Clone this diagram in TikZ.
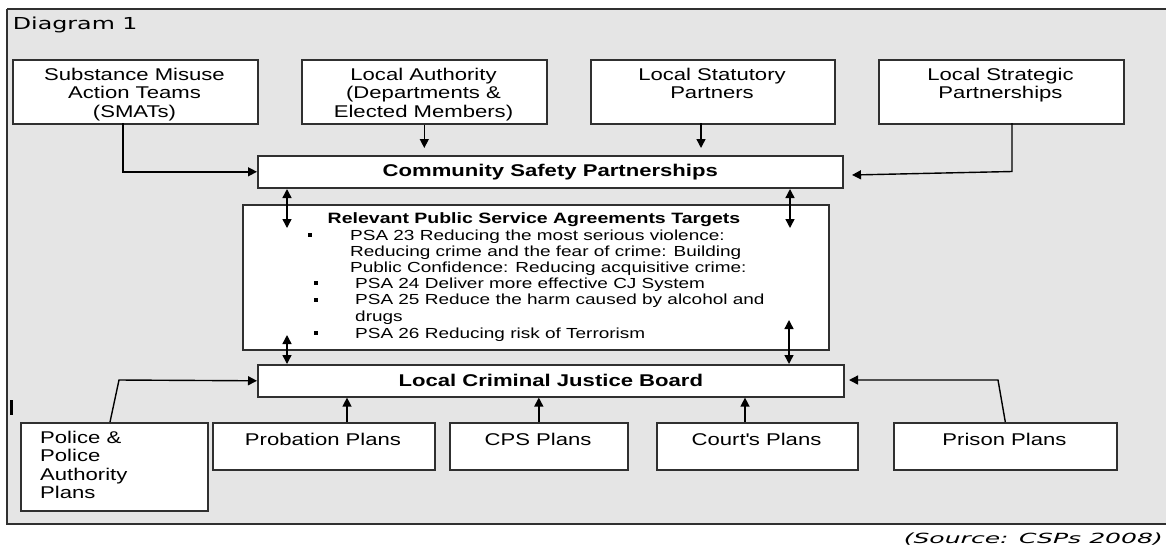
\documentclass[tikz,border=0pt]{standalone}
\usepackage{fontspec}
\setmainfont{Liberation Sans}[FakeStretch=1.3]
\newfontfamily\dvs{DejaVu Sans}[ItalicFont={DejaVu Sans Oblique}]
\usetikzlibrary{arrows.meta,calc}
\definecolor{bg}{HTML}{E5E5E5}
\definecolor{ln}{HTML}{303030}
\newcommand\fsz[2]{\fontsize{#1}{#2}\selectfont}
\begin{document}
\begin{tikzpicture}[x=1pt,y=-1pt,
  box/.style={draw=ln, line width=1.6pt, fill=white, inner sep=0, anchor=north west},
  txt/.style={inner sep=0, align=center, anchor=north, font=\fsz{17}{18.5}},
  btxt/.style={inner sep=0, font=\bfseries\fsz{17}{18.5}},
  arr/.style={draw=black, line width=1.4pt, -{Triangle[length=9pt,width=9pt]}},
  darr/.style={draw=black, line width=1.4pt, {Triangle[length=9pt,width=9pt]}-{Triangle[length=9pt,width=9pt]}},
  psa/.style={inner sep=0, align=left, anchor=north west, font=\fsz{14.6}{16.3}},
  bul/.style={fill=black, inner sep=0, minimum size=4pt}
]
\useasboundingbox (0,0) rectangle (1166,547);
\fill[white] (0,0) rectangle (1166,547);
\fill[bg] (7,9) rectangle (1166,524);
\draw[ln, line width=1.6pt] (7,9) -- (1168,9) (7,9) -- (7,524) -- (1168,524);
\draw[black, line width=3pt] (11.5,400) -- (11.5,415);

\node[inner sep=0, anchor=base west, font=\dvs\fsz{16.5}{18}] (title) at (12.7,29.3) {\scalebox{1.44}[1]{Diagram 1}};
\node[inner sep=0, anchor=base east, font=\dvs\itshape\fsz{14}{16}] (src) at (1163,543.5) {\scalebox{1.79}[1]{(Source: CSPs 2008)}};

% top boxes
\node[box, minimum width=245pt, minimum height=64pt] (smats) at (12,59) {};
\node[box, minimum width=245pt, minimum height=64pt] (la) at (301,59) {};
\node[box, minimum width=244pt, minimum height=64pt] (stat) at (590,59) {};
\node[box, minimum width=245pt, minimum height=64pt] (strat) at (878,59) {};
\node[txt] (smatsT) at (134.5,67.7) {Substance Misuse\\Action Teams\\(SMATs)};
\node[txt] (laT) at (423.5,67.7) {Local Authority\\(Departments \&\\Elected Members)};
\node[txt] (statT) at (712,67.7) {Local Statutory\\Partners};
\node[txt] (stratT) at (1000.5,67.7) {Local Strategic\\Partnerships};

% CSP
\node[box, minimum width=585pt, minimum height=32pt] (csp) at (257,155) {};
\node[btxt] (cspT) at (csp.center) {Community Safety Partnerships};

% PSA box
\node[box, minimum width=586pt, minimum height=145pt] (psabox) at (242,204) {};
\node[inner sep=0, anchor=base, font=\bfseries\fsz{15}{17}] (psaT) at (534,223) {Relevant Public Service Agreements Targets};
\node[bul] (b1) at (310,235) {};
\node[bul] (b2) at (316,283) {};
\node[bul] (b3) at (316,300) {};
\node[bul] (b4) at (316,333) {};
\node[psa] (p1) at (350,229.5) {PSA 23 Reducing the most serious violence:\\Reducing crime and the fear of crime: Building\\Public Confidence: Reducing acquisitive crime:};
\node[psa] (p2) at (355,277.5) {PSA 24 Deliver more effective CJ System};
\node[psa] (p3) at (355,294) {PSA 25 Reduce the harm caused by alcohol and\\drugs};
\node[psa] (p4) at (355,327.5) {PSA 26 Reducing risk of Terrorism};

% LCJB
\node[box, minimum width=586pt, minimum height=32pt] (lcjb) at (257,364) {};
\node[btxt] (lcjbT) at (lcjb.center) {Local Criminal Justice Board};

% bottom boxes
\node[box, minimum width=187pt, minimum height=88pt] (police) at (20,422) {};
\node[box, minimum width=222pt, minimum height=47pt] (prob) at (212,422) {};
\node[box, minimum width=178pt, minimum height=47pt] (cps) at (449,422) {};
\node[box, minimum width=201pt, minimum height=47pt] (court) at (656,422) {};
\node[box, minimum width=223pt, minimum height=47pt] (prison) at (893,422) {};
\node[txt, align=left, anchor=north west, font=\fsz{17}{18.4}] (policeT) at (40,430.7) {Police \&\\Police\\Authority\\Plans};
\node[txt] (probT) at (323,432.7) {Probation Plans};
\node[txt] (cpsT) at (538,432.7) {CPS Plans};
\node[txt] (courtT) at (756.5,432.7) {Court\textquotesingle s Plans};
\node[txt] (prisonT) at (1004.5,432.7) {Prison Plans};

% connectors top
\coordinate (s1) at (123,123);
\draw[arr] (s1) |- (csp.west);
\draw[arr, shorten >=7pt] (la.south) -- (la.south |- csp.north);
\coordinate (st1) at (701,123);
\draw[arr, shorten >=7pt] (st1) -- (st1 |- csp.north);
\coordinate (sg1) at (1012,123);
\coordinate (sg2) at (1012,171.5);
\coordinate (sg3) at (852,175);
\draw[arr] (sg1) -- (sg2) -- (sg3);

% double arrows
\coordinate (d1a) at (287,189); \coordinate (d1b) at (287,228);
\coordinate (d2a) at (790,189); \coordinate (d2b) at (790,228);
\coordinate (d3a) at (287,335); \coordinate (d3b) at (287,364);
\coordinate (d4a) at (789,320); \coordinate (d4b) at (789,364);
\draw[darr] (d1a) -- (d1b);
\draw[darr] (d2a) -- (d2b);
\draw[darr] (d3a) -- (d3b);
\draw[darr] (d4a) -- (d4b);

% connectors bottom
\coordinate (po1) at (110,422);
\coordinate (po2) at (119,380);
\draw[arr] (po1) -- (po2) -- (lcjb.west);
\coordinate (pb) at (347,422);
\draw[arr] (pb) -- (pb |- lcjb.south);
\draw[arr] (cps.north) -- (cps.north |- lcjb.south);
\coordinate (ct) at (745,422);
\draw[arr] (ct) -- (ct |- lcjb.south);
\coordinate (pr1) at (998,380);
\coordinate (pr2) at (849,380);
\draw[arr] (prison.north) -- (pr1) -- (pr2);
\end{tikzpicture}
\end{document}
